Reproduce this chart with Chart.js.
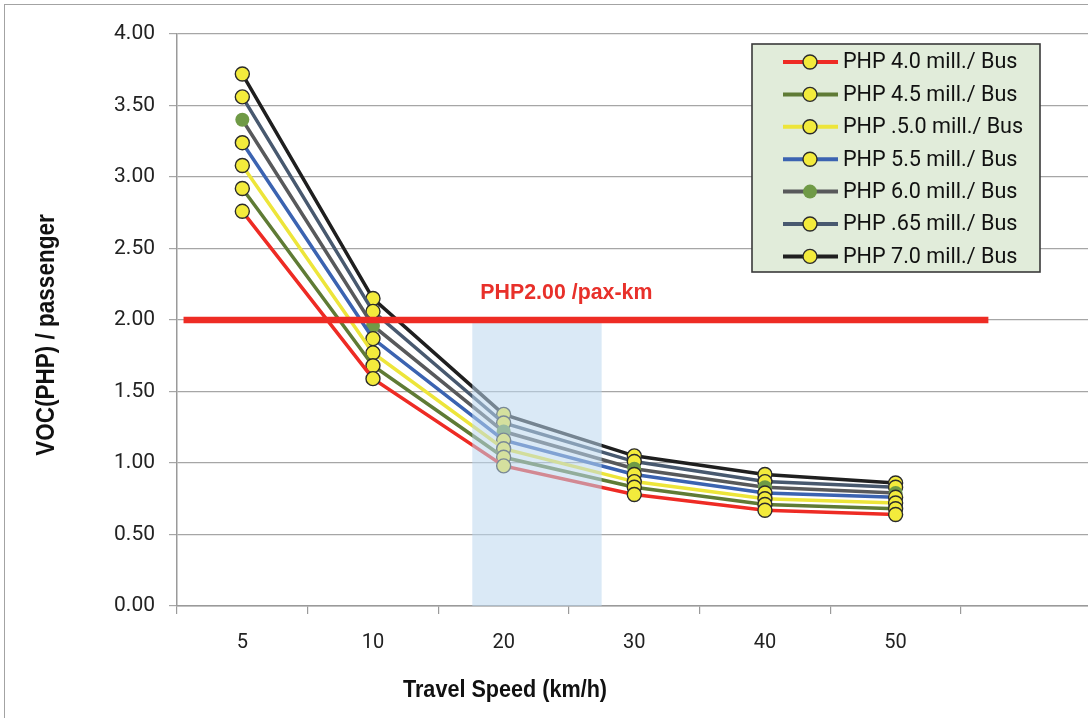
<!DOCTYPE html>
<html>
<head>
<meta charset="utf-8">
<title>VOC per passenger vs travel speed</title>
<script src="https://cdn.jsdelivr.net/npm/chart.js@4.4.1/dist/chart.umd.min.js"></script>
<style>
  html, body { margin: 0; padding: 0; background: #fff; overflow: hidden; }
  #wrap { position: relative; width: 1088px; height: 718px; overflow: hidden; }
  #voc-chart { display: block; }
</style>
</head>
<body>
<div id="wrap"><canvas id="voc-chart" width="1100" height="718"></canvas></div>
<script>
/* VOC per passenger by travel speed, one line per bus price */

const SPEEDS = ['5', '10', '20', '30', '40', '50', ''];
const SERIES_LABELS = [
  'PHP 4.0 mill./ Bus', 'PHP 4.5 mill./ Bus', 'PHP .5.0 mill./ Bus', 'PHP 5.5 mill./ Bus',
  'PHP 6.0 mill./ Bus', 'PHP .65 mill./ Bus', 'PHP 7.0 mill./ Bus',
];
const VOC_40 = [2.76, 1.59, 0.98, 0.78, 0.67, 0.64];
const VOC_45 = [2.92, 1.68, 1.04, 0.83, 0.71, 0.68];
const VOC_50 = [3.08, 1.77, 1.10, 0.87, 0.75, 0.72];
const VOC_55 = [3.24, 1.87, 1.16, 0.92, 0.79, 0.76];
const VOC_60 = [3.40, 1.96, 1.22, 0.96, 0.83, 0.79];
const VOC_65 = [3.56, 2.06, 1.28, 1.01, 0.87, 0.83];
const VOC_70 = [3.72, 2.15, 1.34, 1.05, 0.92, 0.86];
const Y_TICKS = [0, 0.5, 1, 1.5, 2, 2.5, 3, 3.5, 4];

// threshold line and the highlighted speed band, in data units (category index / VOC)
const THRESHOLD = 2.0;
const THRESHOLD_SPAN = [-0.45, 5.71];
const THRESHOLD_LABEL = 'PHP2.00 /pax-km';
const BAND_X = [1.76, 2.75];
const BAND_Y = [0, 1.98];

const LINE_COLORS = ['#ee2b24', '#5f7b35', '#ede53a', '#3b63b1', '#58595b', '#48596f', '#1f1f1f'];
const DOT_YELLOW = '#f3eb3c', DOT_GREEN = '#6f9a46';
const FONT = 'Roboto, "Liberation Sans", Arial, sans-serif';
const BOLD = '"Liberation Sans", Arial, sans-serif';

const seriesData = [VOC_40, VOC_45, VOC_50, VOC_55, VOC_60, VOC_65, VOC_70];

const datasets = seriesData.map((vals, i) => {
  const green = i === 4;
  return {
    label: SERIES_LABELS[i],
    data: vals,
    borderColor: LINE_COLORS[i],
    borderWidth: 3.5,
    tension: 0,
    pointRadius: 7,
    pointBackgroundColor: green ? DOT_GREEN : DOT_YELLOW,
    pointBorderColor: green ? DOT_GREEN : '#2b2b2b',
    pointBorderWidth: green ? 0 : 1.4,
  };
});

// condensed bold text helper
function squeezeText(ctx, text, x, y, sx, font, color, rot) {
  ctx.save();
  ctx.translate(x, y);
  if (rot) ctx.rotate(rot);
  ctx.scale(sx, 1);
  ctx.font = font;
  ctx.fillStyle = color;
  ctx.textAlign = 'center';
  ctx.textBaseline = 'middle';
  ctx.fillText(text, 0, 0);
  ctx.restore();
}

const overlays = {
  id: 'overlays',
  beforeDraw(chart) {
    const { ctx } = chart;
    ctx.save();
    ctx.strokeStyle = '#a3a3a3';
    ctx.lineWidth = 1;
    ctx.strokeRect(4.5, 4.5, 1200, 1200);
    ctx.restore();
  },
  afterDatasetsDraw(chart) {
    const { ctx, scales: { x, y } } = chart;

    // shaded speed band, laid over the lines
    const bx0 = x.getPixelForValue(BAND_X[0]), bx1 = x.getPixelForValue(BAND_X[1]);
    const by0 = y.getPixelForValue(BAND_Y[1]), by1 = y.getPixelForValue(BAND_Y[0]);
    ctx.save();
    ctx.fillStyle = 'rgba(187,215,238,0.55)';
    ctx.fillRect(bx0, by0, bx1 - bx0, by1 - by0);

    // 2.00 PHP/pax-km threshold
    const ty = y.getPixelForValue(THRESHOLD);
    ctx.strokeStyle = '#ee2c24';
    ctx.lineWidth = 6.5;
    ctx.beginPath();
    ctx.moveTo(x.getPixelForValue(THRESHOLD_SPAN[0]), ty);
    ctx.lineTo(x.getPixelForValue(THRESHOLD_SPAN[1]), ty);
    ctx.stroke();
    squeezeText(ctx, THRESHOLD_LABEL, x.getPixelForValue(2.48), y.getPixelForValue(2.19),
      0.97, 'bold 22px ' + BOLD, '#e8302a');
    ctx.restore();

    // axis titles
    squeezeText(ctx, 'Travel Speed (km/h)', 505, 690, 0.9, 'bold 24px ' + BOLD, '#111');
    squeezeText(ctx, 'VOC(PHP) / passenger', 47, 335, 0.9, 'bold 25px ' + BOLD, '#111', -Math.PI / 2);

    // legend box
    const lx = 752, ly = 44, lw = 288, lh = 228, row = 32.4;
    ctx.save();
    ctx.fillStyle = '#e1ecda';
    ctx.fillRect(lx, ly, lw, lh);
    ctx.strokeStyle = '#3a3a3a';
    ctx.lineWidth = 1.6;
    ctx.strokeRect(lx, ly, lw, lh);
    chart.data.datasets.forEach((ds, i) => {
      const cy = ly + 18 + i * row;
      ctx.strokeStyle = ds.borderColor;
      ctx.lineWidth = 4;
      ctx.beginPath();
      ctx.moveTo(783, cy);
      ctx.lineTo(838, cy);
      ctx.stroke();
      ctx.beginPath();
      ctx.arc(810, cy, 7, 0, Math.PI * 2);
      ctx.fillStyle = ds.pointBackgroundColor;
      ctx.fill();
      if (ds.pointBorderWidth) {
        ctx.lineWidth = 1.4;
        ctx.strokeStyle = ds.pointBorderColor;
        ctx.stroke();
      }
      ctx.fillStyle = '#111';
      ctx.font = '21.6px ' + FONT;
      ctx.textAlign = 'left';
      ctx.textBaseline = 'middle';
      ctx.fillText(ds.label, 843, cy + 1);
    });
    ctx.restore();
  },
};

new Chart(document.getElementById('voc-chart'), {
  type: 'line',
  data: { labels: SPEEDS, datasets },
  options: {
    responsive: false,
    animation: false,
    layout: { padding: { top: 34, right: 0, bottom: 0, left: 0 } },
    plugins: { legend: { display: false }, tooltip: { enabled: false } },
    scales: {
      x: {
        offset: true,
        grid: { offset: true, drawOnChartArea: false, tickLength: 8, color: '#9a9a9a', lineWidth: 1.2 },
        border: { color: '#9a9a9a', width: 1.5 },
        ticks: { color: '#222', padding: 17, font: { family: FONT, size: 20 } },
        afterFit: s => { s.height = 112; },
      },
      y: {
        min: 0, max: 4,
        afterBuildTicks: s => { s.ticks = Y_TICKS.map(v => ({ value: v })); },
        grid: { color: '#a6a6a6', lineWidth: 1.2, tickLength: 8 },
        border: { color: '#9a9a9a', width: 1.5 },
        ticks: { color: '#222', padding: 14, font: { family: FONT, size: 21 }, callback: v => v.toFixed(2) },
        afterFit: s => { s.width = 177; },
      },
    },
  },
  plugins: [overlays],
});
</script>
</body>
</html>
